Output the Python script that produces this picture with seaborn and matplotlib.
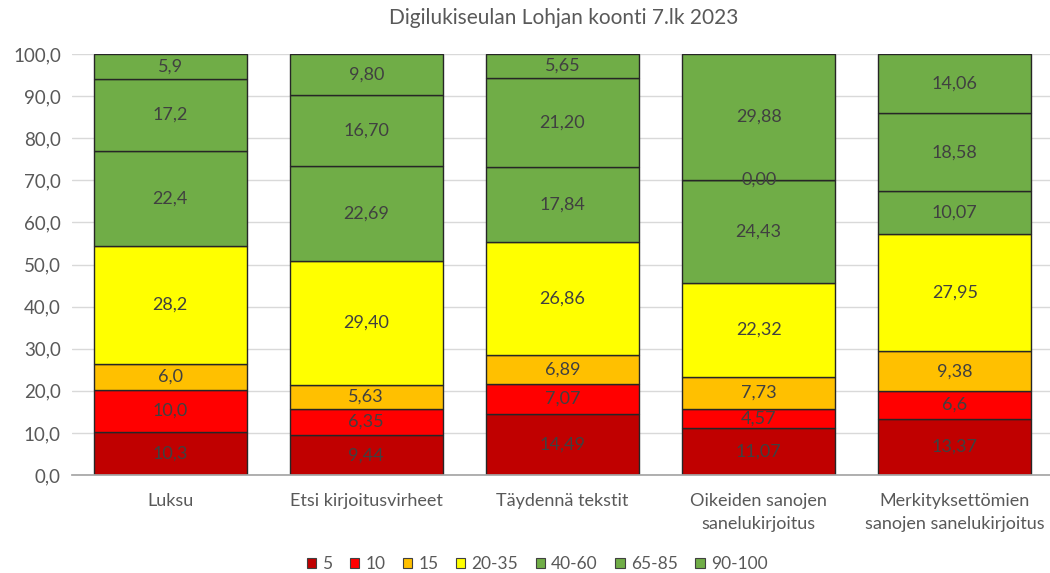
import matplotlib
matplotlib.use("Agg")
import matplotlib.pyplot as plt
import seaborn as sns
import numpy as np
from matplotlib.patches import Patch

sns.set_theme(style="white")
plt.rcParams['font.family'] = ['Lato', 'DejaVu Sans']

title = "Digilukiseulan Lohjan koonti 7.lk 2023"
categories = ["Luksu", "Etsi kirjoitusvirheet", "Täydennä tekstit",
              "Oikeiden sanojen\nsanelukirjoitus",
              "Merkityksettömien\nsanojen sanelukirjoitus"]
series_names = ["5", "10", "15", "20-35", "40-60", "65-85", "90-100"]

s_5 = [10.3, 9.44, 14.49, 11.07, 13.37]
s_10 = [10.0, 6.35, 7.07, 4.57, 6.6]
s_15 = [6.0, 5.63, 6.89, 7.73, 9.38]
s_20_35 = [28.2, 29.40, 26.86, 22.32, 27.95]
s_40_60 = [22.4, 22.69, 17.84, 24.43, 10.07]
s_65_85 = [17.2, 16.70, 21.20, 0.00, 18.58]
s_90_100 = [5.9, 9.80, 5.65, 29.88, 14.06]

# decimals shown in data labels (per series, per category)
label_decimals = [
    [1, 2, 2, 2, 2],
    [1, 2, 2, 2, 1],
    [1, 2, 2, 2, 2],
    [1, 2, 2, 2, 2],
    [1, 2, 2, 2, 2],
    [1, 2, 2, 2, 2],
    [1, 2, 2, 2, 2],
]

yticks = [0, 10, 20, 30, 40, 50, 60, 70, 80, 90, 100]

colors = ["#C00000", "#FF0000", "#FFC000", "#FFFF00", "#70AD47", "#70AD47", "#70AD47"]
all_series = [s_5, s_10, s_15, s_20_35, s_40_60, s_65_85, s_90_100]

fig = plt.figure(figsize=(10.5, 5.73), dpi=100)
ax = fig.add_axes([72/1050, (573-475)/573, (1050-72)/1050, (475-54)/573])

bottom = np.zeros(len(categories))
for name, vals, col, decs in zip(series_names, all_series, colors, label_decimals):
    vals = np.array(vals)
    sns.barplot(x=categories, y=vals, bottom=bottom, color=col, ax=ax,
                width=0.78, edgecolor="#262626", linewidth=1.0, saturation=1)
    for i, (v, b, d) in enumerate(zip(vals, bottom, decs)):
        txt = f"{v:.{d}f}".replace(".", ",")
        ax.text(i, b + v / 2, txt, ha="center", va="center",
                fontsize=13, color="#404040")
    bottom = bottom + vals

ax.set_ylim(0, 100)
ax.set_xlim(-0.5, 4.485)
ax.set_yticks(yticks)
ax.set_yticklabels([f"{t:.1f}".replace(".", ",") for t in yticks],
                   fontsize=13.5, color="#595959")
ax.yaxis.grid(True, color="#D9D9D9", linewidth=1)
ax.set_axisbelow(True)
for s in ["top", "right", "left"]:
    ax.spines[s].set_visible(False)
ax.spines["bottom"].set_color("#A6A6A6")
ax.tick_params(axis="x", labelsize=13, labelcolor="#595959", length=0, pad=13)
for lbl in ax.get_xticklabels():
    lbl.set_linespacing(1.55)
ax.tick_params(axis="y", length=0, pad=8)
ax.set_xlabel("")
ax.set_ylabel("")

fig.text(564/1050, 1 - 18/573, title, ha="center", va="center",
         fontsize=15, color="#595959")

handles = [Patch(facecolor=c, edgecolor="#404040", linewidth=0.8) for c in colors]
fig.legend(handles, series_names, loc="center", bbox_to_anchor=(537/1050, 1 - 564/573),
           ncol=7, frameon=False, fontsize=12.5, handlelength=0.55, handleheight=0.55,
           handletextpad=0.35, columnspacing=1.0, labelcolor="#595959")

fig.savefig("out.png", dpi=100)
